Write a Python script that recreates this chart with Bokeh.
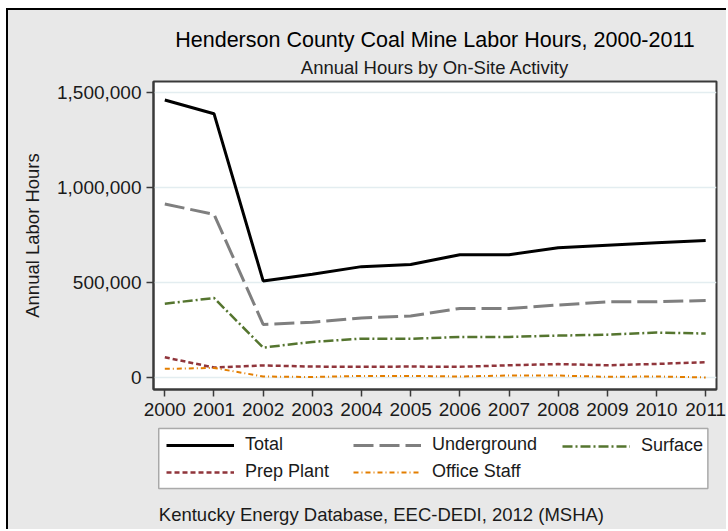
from bokeh.plotting import figure
from bokeh.layouts import column
from bokeh.models import (Range1d, Title, Legend, LegendItem, NumeralTickFormatter,
                          FixedTicker, Label, BoxAnnotation)
from bokeh.embed import file_html
from bokeh.resources import INLINE

years = [2000, 2001, 2002, 2003, 2004, 2005, 2006, 2007, 2008, 2009, 2010, 2011]
total = [1462000, 1390000, 510000, 545000, 585000, 596000, 648000, 648000, 684000, 698000, 711000, 723000]
underground = [915000, 860000, 281000, 292000, 315000, 325000, 365000, 365000, 383000, 400000, 400000, 407000]
surface = [390000, 420000, 159000, 189000, 206000, 205000, 215000, 215000, 222000, 227000, 238000, 233000]
prep_plant = [108000, 54000, 65000, 59000, 58000, 59000, 58000, 66000, 72000, 66000, 73000, 82000]
office_staff = [47000, 52000, 7000, 4000, 10000, 10000, 7000, 12000, 12000, 5000, 7000, 2000]

y_ticks = [0, 500000, 1000000, 1500000]
series_names = ["Total", "Underground", "Surface", "Prep Plant", "Office Staff"]
title_text = "Henderson County Coal Mine Labor Hours, 2000-2011"
subtitle_text = "Annual Hours by On-Site Activity"
ylabel_text = "Annual Labor Hours"
caption_text = "Kentucky Energy Database, EEC-DEDI, 2012 (MSHA)"

FONT = "Liberation Sans"
BG = "#e8e8e8"
TXT = "#1a1a1a"
styles_spec = [
    dict(line_color="black", line_width=3),
    dict(line_color="#7f7f7f", line_width=3, line_dash="20 6"),
    dict(line_color="#55752f", line_width=2.5, line_dash="10 3 2 3"),
    dict(line_color="#90353b", line_width=2.5, line_dash="5 3"),
    dict(line_color="#e37e00", line_width=2, line_dash="5 3 1 3"),
]
all_series = [total, underground, surface, prep_plant, office_staff]

x0, x1 = 1999.77, 2011.22
y0, y1 = -61600, 1559400
ML, MR = 145, 12

# ---------------- main chart ----------------
p = figure(width=720, height=417, output_backend="svg", toolbar_location=None,
           x_range=Range1d(x0, x1), y_range=Range1d(y0, y1),
           min_border_left=ML, min_border_right=MR, min_border_top=71, min_border_bottom=38)
p.styles = {"border-top": "2px solid black", "border-left": "2px solid black"}
p.background_fill_color = "white"
p.border_fill_color = BG
p.outline_line_color = "#3a3a3a"
p.outline_line_width = 2

p.title.text = title_text
p.title.align = "center"
p.title.text_font = FONT
p.title.text_font_size = "21.5px"
p.title.text_font_style = "normal"
p.title.text_color = "black"
p.title.standoff = 0
p.add_layout(Title(text=subtitle_text, align="center", text_font=FONT, text_font_size="18.5px",
                   text_font_style="normal", text_color=TXT, standoff=7), "above")

p.xaxis.ticker = FixedTicker(ticks=years)
p.yaxis.ticker = FixedTicker(ticks=y_ticks)
p.yaxis.formatter = NumeralTickFormatter(format="0,0")
for ax in (p.xaxis[0], p.yaxis[0]):
    ax.axis_line_color = "#3a3a3a"
    ax.axis_line_width = 2
    ax.major_tick_line_color = "#3a3a3a"
    ax.major_tick_line_width = 1.5
    ax.major_tick_out = 7
    ax.major_tick_in = 0
    ax.minor_tick_line_color = None
    ax.major_label_text_font = FONT
    ax.major_label_text_font_size = "19px"
    ax.major_label_text_color = TXT
p.xaxis.major_label_standoff = 6
p.yaxis.major_label_standoff = 5
p.yaxis.axis_label = ylabel_text
p.yaxis.axis_label_text_font = FONT
p.yaxis.axis_label_text_font_size = "18.5px"
p.yaxis.axis_label_text_font_style = "normal"
p.yaxis.axis_label_text_color = TXT
p.yaxis.axis_label_standoff = 11

p.xgrid.grid_line_color = None
p.ygrid.grid_line_color = "#e3edf0"
p.ygrid.grid_line_width = 1.5
p.ygrid.ticker = FixedTicker(ticks=y_ticks)

for vals, st in zip(all_series, styles_spec):
    p.line(years, vals, **st)

# ---------------- legend + caption strip (frame aligned with the chart's frame) ----------------
FW = 720 - ML - MR
LH = 104
q = figure(width=720, height=LH, output_backend="svg", toolbar_location=None,
           x_range=Range1d(0, FW), y_range=Range1d(0, LH),
           min_border_left=ML, min_border_right=MR, min_border_top=0, min_border_bottom=0)
q.styles = {"border-left": "2px solid black"}
q.axis.visible = False
q.grid.visible = False
q.outline_line_color = None
q.background_fill_color = None
q.border_fill_color = BG

q.add_layout(BoxAnnotation(left=5.3, right=554.3, bottom=41, top=101,
                           fill_color="white", fill_alpha=1,
                           line_color="black", line_width=1.5))

# legend sample renderers (their data lie outside this strip's ranges, so only the legend shows)
sample = [q.line(years, vals, **st) for vals, st in zip(all_series, styles_spec)]
col_groups = [[0, 3], [1, 4], [2]]
col_x = [13, 200, 409]
col_bottom = [47, 47, 73]
for grp, cx, cb in zip(col_groups, col_x, col_bottom):
    lg = Legend(items=[LegendItem(label=series_names[i], renderers=[sample[i]]) for i in grp],
                location=(cx, cb), orientation="vertical")
    lg.glyph_width = 68
    lg.glyph_height = 20
    lg.label_height = 20
    lg.label_standoff = 11
    lg.spacing = 6
    lg.padding = 0
    lg.margin = 0
    lg.label_text_font = FONT
    lg.label_text_font_size = "18px"
    lg.label_text_color = TXT
    lg.border_line_color = None
    lg.background_fill_alpha = 0
    q.add_layout(lg, "center")

q.add_layout(Label(x=5.3, y=15.3, text=caption_text, text_align="left",
                   text_baseline="alphabetic", text_font=FONT, text_font_size="18.5px",
                   text_color=TXT))

layout = column(p, q, spacing=0, margin=(8, 0, 0, 6))
layout.styles = {"background-color": BG}
open("out.html", "w").write(file_html(layout, INLINE))
